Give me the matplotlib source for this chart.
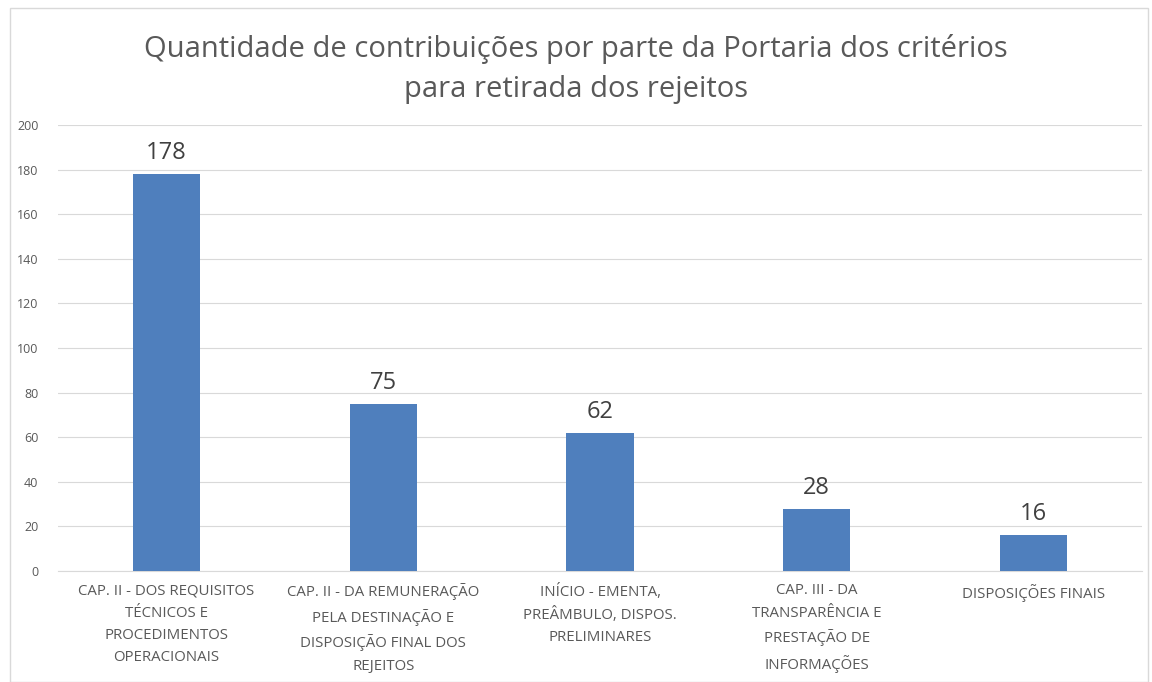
import matplotlib
matplotlib.use("Agg")
import matplotlib.pyplot as plt
from matplotlib.patches import Rectangle

categories = [
    "CAP. II - DOS REQUISITOS\nTÉCNICOS E\nPROCEDIMENTOS\nOPERACIONAIS",
    "CAP. II - DA REMUNERAÇÃO\nPELA DESTINAÇÃO E\nDISPOSIÇÃO FINAL DOS\nREJEITOS",
    "INÍCIO - EMENTA,\nPREÂMBULO, DISPOS.\nPRELIMINARES",
    "CAP. III - DA\nTRANSPARÊNCIA E\nPRESTAÇÃO DE\nINFORMAÇÕES",
    "DISPOSIÇÕES FINAIS",
]
values = [178, 75, 62, 28, 16]
yticks = [0, 20, 40, 60, 80, 100, 120, 140, 160, 180, 200]
title = "Quantidade de contribuições por parte da Portaria dos critérios\npara retirada dos rejeitos"

plt.rcParams['font.family'] = ['Open Sans', 'DejaVu Sans']

fig = plt.figure(figsize=(11.52, 6.82), dpi=100)
fig.patches.append(Rectangle((10/1152, 0), 1138/1152, 1 - 8/682, transform=fig.transFigure,
                             fill=False, edgecolor='#d9d9d9', linewidth=1.0))
ax = fig.add_axes([58/1152, 1 - 571/682, (1142 - 58)/1152, (571 - 125)/682])

x = list(range(len(values)))
ax.bar(x, values, width=0.31, color='#4f7fbd', zorder=3)
for xi, v in zip(x, values):
    ax.text(xi, v + 4, str(v), ha='center', va='bottom', fontsize=17, color='#404040')

ax.set_xlim(-0.5, len(values) - 0.5)
ax.set_ylim(0, 200)
ax.set_yticks(yticks)
ax.set_yticklabels([str(t) for t in yticks], fontsize=9, color='#595959')
ax.set_xticks(x)
ax.set_xticklabels(categories, fontsize=10.8, color='#595959', va='top', linespacing=1.65)
ax.tick_params(axis='both', length=0)
ax.tick_params(axis='x', pad=9)
ax.tick_params(axis='y', pad=14)
ax.grid(axis='y', color='#d9d9d9', linewidth=0.8, zorder=0)
for s in ['top', 'right', 'left']:
    ax.spines[s].set_visible(False)
ax.spines['bottom'].set_color('#d9d9d9')

fig.text(0.5, 1 - 69/682, title, ha='center', va='center', fontsize=21, color='#595959', linespacing=1.5)

fig.savefig("out.png", dpi=100)
